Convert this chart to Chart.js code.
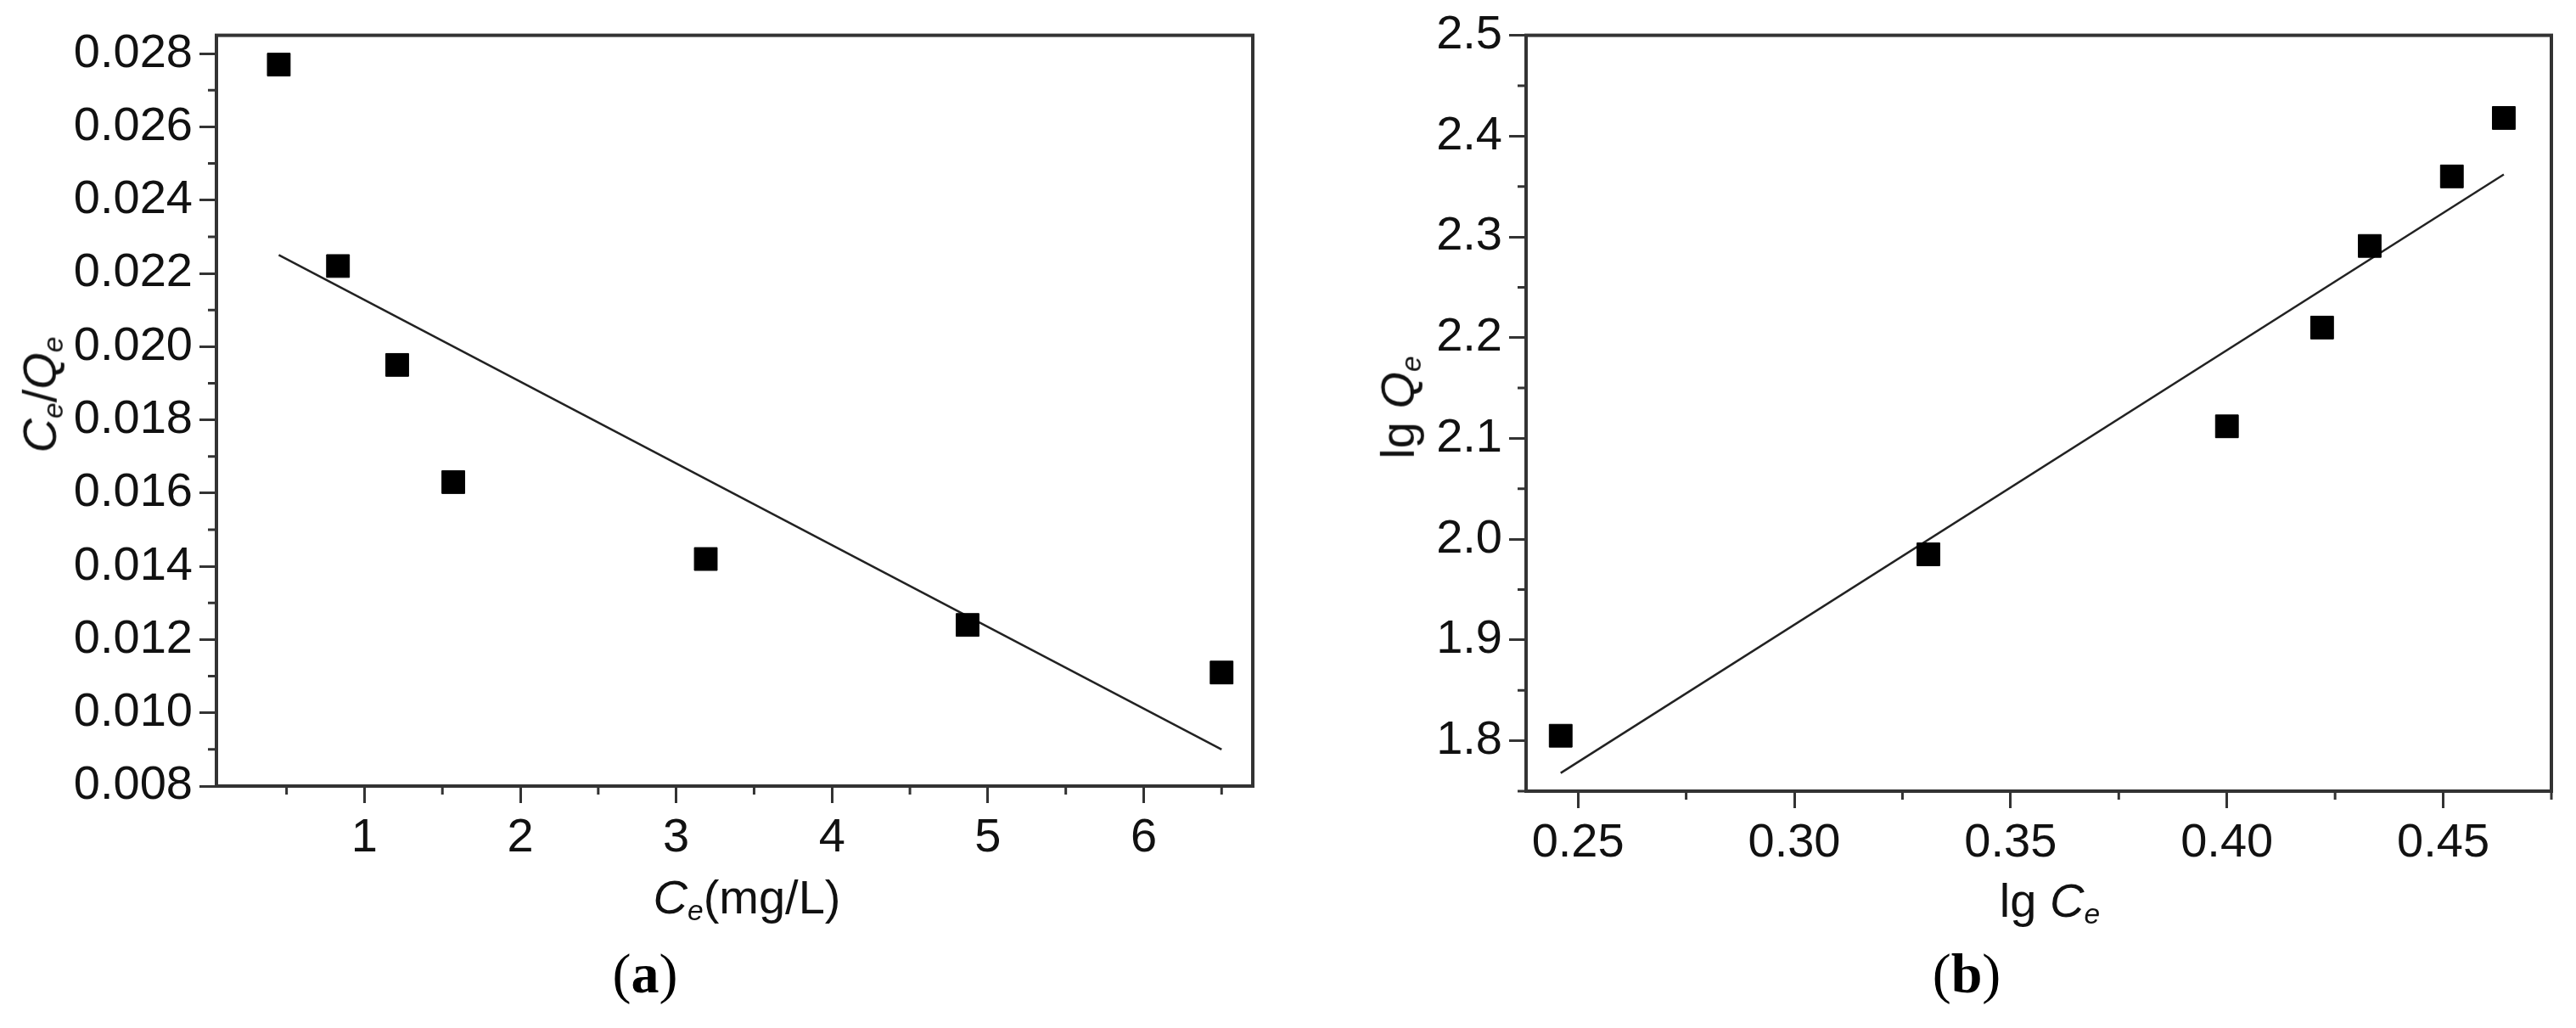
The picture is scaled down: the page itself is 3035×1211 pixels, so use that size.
<!DOCTYPE html>
<html>
<head>
<meta charset="utf-8">
<script src="https://cdn.jsdelivr.net/npm/chart.js@4/dist/chart.umd.min.js"></script>
<style>
  body { margin: 0; width: 3035px; height: 1211px; background: #fff; position: relative; overflow: hidden;
         font-family: "Liberation Sans", Arial, sans-serif; }
  canvas { position: absolute; }
  .lbl { position: absolute; font-size: 56px; color: #111; white-space: nowrap; transform: translate(-50%, -50%); }
  .lbl sub { font-size: 0.6em; vertical-align: -0.25em; }
  .rot { transform: translate(-50%, -50%) rotate(-90deg); }
  .cap { position: absolute; font-family: "Liberation Serif", "DejaVu Serif", serif; font-size: 66px;
         transform: translate(-50%, -50%); }
</style>
</head>
<body>
<div style="position:absolute;left:0;top:0;width:1500px;height:1060px"><canvas id="chartA"></canvas></div>
<div style="position:absolute;left:1500px;top:0;width:1535px;height:1060px"><canvas id="chartB"></canvas></div>

<div class="lbl rot" style="left:48px;top:465px"><i>C<sub>e</sub></i>/<i>Q<sub>e</sub></i></div>
<div class="lbl" style="left:880px;top:1058px"><i>C<sub>e</sub></i>(mg/L)</div>
<div class="cap" style="left:760px;top:1147px">(<b>a</b>)</div>

<div class="lbl rot" style="left:1648px;top:480px">lg <i>Q<sub>e</sub></i></div>
<div class="lbl" style="left:2415px;top:1062px">lg <i>C<sub>e</sub></i></div>
<div class="cap" style="left:2317px;top:1147px">(<b>b</b>)</div>

<script>
// (a) Langmuir
const ceA = [0.45, 0.83, 1.21, 1.57, 3.19, 4.87, 6.5];
const ceQeA = [0.0277, 0.0222, 0.0195, 0.0163, 0.0142, 0.0124, 0.0111];
const fitXA = [0.45, 6.5];
const fitYA = [0.0225, 0.0090];
const xTicksA = [1, 2, 3, 4, 5, 6];
const yTicksA = [0.008, 0.010, 0.012, 0.014, 0.016, 0.018, 0.020, 0.022, 0.024, 0.026, 0.028];

// (b) Freundlich
const lgCeB = [0.246, 0.331, 0.400, 0.422, 0.433, 0.452, 0.464];
const lgQeB = [1.805, 1.985, 2.112, 2.21, 2.291, 2.36, 2.418];
const fitXB = [0.246, 0.464];
const fitYB = [1.768, 2.362];
const xTicksB = [0.25, 0.30, 0.35, 0.40, 0.45];
const yTicksB = [1.8, 1.9, 2.0, 2.1, 2.2, 2.3, 2.4, 2.5];

const axisColor = "#333";

// frame + minor ticks
const framePlugin = {
  id: "frame",
  afterDraw(chart, args, opts) {
    const { ctx, chartArea: a } = chart;
    const xs = chart.scales.x, ys = chart.scales.y;
    ctx.save();
    ctx.strokeStyle = axisColor;
    ctx.lineWidth = 4;
    ctx.strokeRect(a.left, a.top, a.right - a.left, a.bottom - a.top);
    ctx.lineWidth = 3;
    ctx.beginPath();
    opts.xMinor.forEach(v => {
      const p = xs.getPixelForValue(v);
      if (p < a.left || p > a.right) return;
      ctx.moveTo(p, a.bottom); ctx.lineTo(p, a.bottom + 10);
    });
    opts.yMinor.forEach(v => {
      const p = ys.getPixelForValue(v);
      if (p < a.top || p > a.bottom) return;
      ctx.moveTo(a.left, p); ctx.lineTo(a.left - 10, p);
    });
    ctx.stroke();
    ctx.restore();
  }
};

function makeChart(id, xs, ys, fx, fy, xr, yr, xt, yt, yWidth, xHeight, pad, xMinor, yMinor, fmtX, fmtY) {
  new Chart(document.getElementById(id), {
    type: "scatter",
    data: {
      datasets: [
        {
          data: xs.map((x, i) => ({ x, y: ys[i] })),
          pointStyle: "rect", pointRadius: 19, pointHoverRadius: 19,
          backgroundColor: "#000", borderColor: "#000", showLine: false
        },
        {
          data: fx.map((x, i) => ({ x, y: fy[i] })),
          showLine: true, pointRadius: 0, borderColor: "#222", borderWidth: 2.5
        }
      ]
    },
    options: {
      responsive: true, maintainAspectRatio: false, animation: false, devicePixelRatio: 1,
      layout: { padding: pad },
      plugins: { legend: { display: false }, tooltip: { enabled: false }, frame: { xMinor, yMinor } },
      scales: {
        x: {
          type: "linear", min: xr[0], max: xr[1],
          afterBuildTicks: s => { s.ticks = xt.map(v => ({ value: v })); },
          afterFit: s => { s.height = xHeight; },
          grid: { drawOnChartArea: false, tickLength: 20, tickColor: axisColor, lineWidth: 3 },
          border: { color: axisColor, width: 4 },
          ticks: { color: "#111", font: { size: 56, family: "Liberation Sans" }, padding: 8, maxRotation: 0,
                   callback: fmtX }
        },
        y: {
          type: "linear", min: yr[0], max: yr[1],
          afterBuildTicks: s => { s.ticks = yt.map(v => ({ value: v })); },
          afterFit: s => { s.width = yWidth; },
          grid: { drawOnChartArea: false, tickLength: 20, tickColor: axisColor, lineWidth: 3 },
          border: { color: axisColor, width: 4 },
          ticks: { color: "#111", font: { size: 56, family: "Liberation Sans" }, padding: 8,
                   callback: fmtY }
        }
      }
    },
    plugins: [framePlugin]
  });
}

makeChart("chartA", ceA, ceQeA, fitXA, fitYA, [0.05, 6.7], [0.008, 0.0285], xTicksA, yTicksA,
  255, 134, { top: 35, right: 24 },
  [0.5, 1.5, 2.5, 3.5, 4.5, 5.5, 6.5],
  [0.009, 0.011, 0.013, 0.015, 0.017, 0.019, 0.021, 0.023, 0.025, 0.027],
  v => String(v), v => v.toFixed(3));

makeChart("chartB", lgCeB, lgQeB, fitXB, fitYB, [0.238, 0.475], [1.75, 2.5], xTicksB, yTicksB,
  298, 128, { top: 35, right: 29 },
  [0.275, 0.325, 0.375, 0.425, 0.475],
  [1.75, 1.85, 1.95, 2.05, 2.15, 2.25, 2.35, 2.45],
  v => v.toFixed(2), v => v.toFixed(1));
</script>
</body>
</html>
